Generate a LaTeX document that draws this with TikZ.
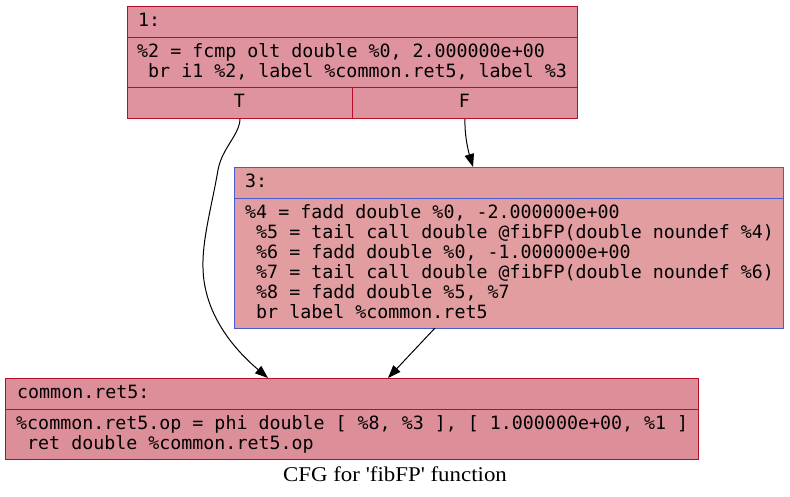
\documentclass[tikz,border=0pt]{standalone}
\usepackage{fontspec}
\setmonofont{DejaVu Sans Mono}
\newfontfamily\capfont{Liberation Serif}
\usetikzlibrary{arrows.meta}
\definecolor{redborder}{HTML}{B70D28}
\definecolor{blueborder}{HTML}{4A5CC8}
\definecolor{fillone}{HTML}{DF939E}
\definecolor{fillthree}{HTML}{E29DA0}
\definecolor{fillret}{HTML}{DD8F99}
\tikzset{
  blk/.style={draw, line width=1pt, inner sep=0pt, anchor=north west},
  codeline/.style={inner sep=0pt, anchor=base west, font=\ttfamily\fontsize{18.3}{20}\selectfont},
  portlabel/.style={inner sep=0pt, anchor=base, font=\ttfamily\fontsize{18.3}{20}\selectfont},
  edge/.style={line width=1pt, -{Triangle[length=13pt,width=9.5pt]}},
}
\begin{document}
\begin{tikzpicture}[x=1pt,y=-1pt]
\useasboundingbox (0,0) rectangle (790,496);
% block 1
\node[blk, redborder, fill=fillone, minimum width=450pt, minimum height=112pt] (n1) at (127,6) {};
\draw[redborder, line width=1pt] (127,37) -- (577,37);
\draw[redborder, line width=1pt] (127,87) -- (577,87);
\draw[redborder, line width=1pt] (352,87) -- (352,118);
\node[blk, draw=none, minimum width=225pt, minimum height=31pt] (n1T) at (127,87) {};
\node[blk, draw=none, minimum width=225pt, minimum height=31pt] (n1F) at (352,87) {};
\node[codeline] (h1) at (138,26) {1:};
\node[codeline] (b1a) at (137,57) {\%2 = fcmp olt double \%0, 2.000000e+00};
\node[codeline] (b1b) at (148,77) {br i1 \%2, label \%common.ret5, label \%3};
\node[portlabel] (lT) at (239.5,107) {T};
\node[portlabel] (lF) at (464.5,107) {F};
% block 3
\node[blk, blueborder, fill=fillthree, minimum width=549pt, minimum height=161pt] (n3) at (234,167) {};
\draw[blueborder, line width=1pt] (234,198) -- (783,198);
\node[codeline] (h3) at (245,187) {3:};
\node[codeline] (b3a) at (245,218) {\%4 = fadd double \%0, -2.000000e+00};
\node[codeline] (b3b) at (256,238) {\%5 = tail call double @fibFP(double noundef \%4)};
\node[codeline] (b3c) at (256,258) {\%6 = fadd double \%0, -1.000000e+00};
\node[codeline] (b3d) at (256,278) {\%7 = tail call double @fibFP(double noundef \%6)};
\node[codeline] (b3e) at (256,298) {\%8 = fadd double \%5, \%7};
\node[codeline] (b3f) at (256,318) {br label \%common.ret5};
% block common.ret5
\node[blk, redborder, fill=fillret, minimum width=693pt, minimum height=81pt] (ret) at (5,378) {};
\draw[redborder, line width=1pt] (5,409) -- (698,409);
\node[codeline] (hr) at (17,398) {common.ret5:};
\node[codeline] (bra) at (16,429.5) {\%common.ret5.op = phi double [ \%8, \%3 ], [ 1.000000e+00, \%1 ]};
\node[codeline] (brb) at (27,449.5) {ret double \%common.ret5.op};
% caption
\node[inner sep=0pt, anchor=base, xscale=1.09, font=\capfont\fontsize{21}{24}\selectfont] (cap) at (395,481) {CFG for 'fibFP' function};
% edges
\coordinate (retT) at (268,378);
\coordinate (retR) at (388,378);
\coordinate (n3in) at (473,167);
\coordinate (n3out) at (435,328);
\draw[edge] (n1T.south) .. controls (239.5,135) and (222,148) .. (218,170)
  .. controls (212,205) and (202,240) .. (203,268)
  .. controls (204,315) and (235,350) .. (retT);
\draw[edge] (n1F.south) .. controls (464.5,135) and (468,150) .. (n3in);
\draw[edge] (n3out) -- (retR);
\end{tikzpicture}
\end{document}
